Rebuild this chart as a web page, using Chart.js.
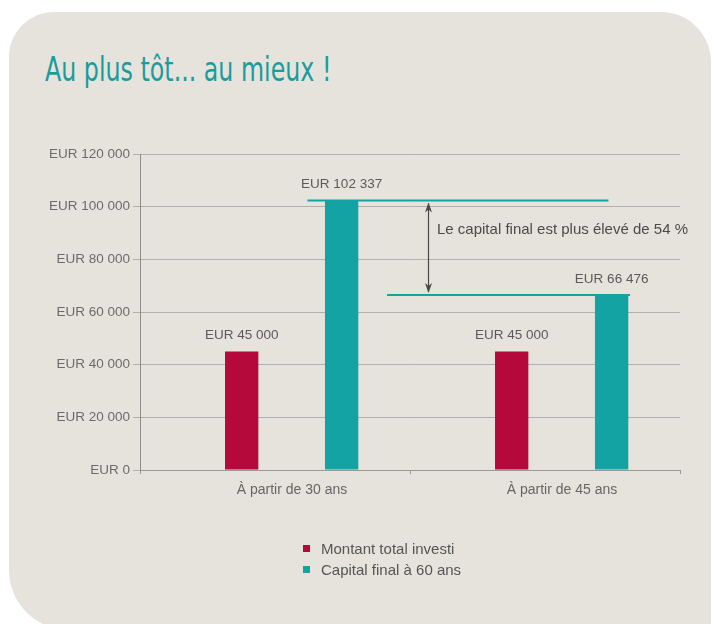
<!DOCTYPE html>
<html>
<head>
<meta charset="utf-8">
<script src="https://cdn.jsdelivr.net/npm/chart.js@4.4.0/dist/chart.umd.min.js"></script>
<style>
  html, body { margin: 0; padding: 0; background: #fff; }
  #page { position: relative; width: 712px; height: 624px; overflow: hidden; }
  #panel {
    position: absolute; left: 9px; top: 12px; width: 702px; height: 618px;
    background: #e6e3dd; border-radius: 45px 50px 0 60px;
  }
  #title {
    position: absolute; left: 45px; top: 50px; margin: 0;
    font: normal 33px/40px "DejaVu Sans Condensed", "DejaVu Sans", sans-serif;
    color: #1a9c9c; white-space: nowrap;
    transform: scaleX(0.8); transform-origin: left center;
  }
  #chart { position: absolute; left: 0; top: 0; }
  #legend {
    position: absolute; left: 303px; top: 538px; margin: 0; padding: 0; list-style: none;
    font: 15px/21px "Liberation Sans", Arial, sans-serif; color: #555;
  }
  #legend li { display: flex; align-items: center; white-space: nowrap; }
  #legend span { display: inline-block; width: 7px; height: 7px; margin-right: 11px; }
</style>
</head>
<body>
<div id="page">
  <div id="panel"></div>
  <h2 id="title">Au plus tôt... au mieux !</h2>
  <canvas id="chart" width="712" height="624"></canvas>
  <ul id="legend"></ul>
</div>
<script>
const categories = ["À partir de 30 ans", "À partir de 45 ans"];
const investedValues = [45000, 45000];
const finalValues = [102337, 66476];
const seriesLabels = ["Montant total investi", "Capital final à 60 ans"];
const seriesColors = ["#b5093b", "#14a3a3"];
const yTicks = [0, 20000, 40000, 60000, 80000, 100000, 120000];
const gapNote = "Le capital final est plus élevé de 54 %";

const FONT = "'Liberation Sans', Arial, sans-serif";

const eur = (v) => "EUR " + String(v).replace(/\B(?=(\d{3})+(?!\d))/g, " ");

// empty slots so the two bars sit where the original puts them
const spacer = () => ({ label: "", data: categories.map(() => null) });

const valueLabels = {
  id: "valueLabels",
  afterDatasetsDraw(chart) {
    const ctx = chart.ctx;
    ctx.save();
    ctx.font = "13.5px " + FONT;
    ctx.fillStyle = "#5a5a5a";
    ctx.textAlign = "center";
    ctx.textBaseline = "middle";
    chart.data.datasets.forEach((ds, i) => {
      if (!ds.label) return;
      chart.getDatasetMeta(i).data.forEach((bar, j) => {
        ctx.fillText(eur(ds.data[j]), bar.x, bar.y - 16);
      });
    });
    ctx.restore();
  },
};

const gapArrow = {
  id: "gapArrow",
  afterDatasetsDraw(chart) {
    const { ctx, scales: { x, y } } = chart;
    const top = y.getPixelForValue(finalValues[0]);
    const low = y.getPixelForValue(finalValues[1]);
    const line = (x1, y1, x2, y2) => {
      ctx.beginPath();
      ctx.moveTo(x1, y1);
      ctx.lineTo(x2, y2);
      ctx.stroke();
    };
    ctx.save();
    ctx.strokeStyle = seriesColors[1];
    ctx.lineWidth = 2;
    line(x.getPixelForValue(0.12), top, x.getPixelForValue(1.235), top);
    line(x.getPixelForValue(0.415), low, x.getPixelForValue(1.315), low);

    const ax = Math.round(x.getPixelForValue(0.565)) + 0.5;
    ctx.strokeStyle = "#474747";
    ctx.fillStyle = "#474747";
    ctx.lineWidth = 1.2;
    line(ax, top + 3, ax, low - 3);
    const head = (tipY, dir) => {
      ctx.beginPath();
      ctx.moveTo(ax, tipY);
      ctx.lineTo(ax - 3.5, tipY + dir * 10);
      ctx.lineTo(ax, tipY + dir * 7);
      ctx.lineTo(ax + 3.5, tipY + dir * 10);
      ctx.closePath();
      ctx.fill();
    };
    head(top + 2, 1);
    head(low - 2, -1);

    ctx.font = "15px " + FONT;
    ctx.fillStyle = "#4a4a4a";
    ctx.textAlign = "left";
    ctx.textBaseline = "middle";
    ctx.fillText(gapNote, x.getPixelForValue(0.6), top + (low - top) * 0.31);
    ctx.restore();
  },
};

new Chart(document.getElementById("chart"), {
  type: "bar",
  data: {
    labels: categories,
    datasets: [
      spacer(),
      { label: seriesLabels[0], data: investedValues, backgroundColor: seriesColors[0] },
      spacer(),
      spacer(),
      { label: seriesLabels[1], data: finalValues, backgroundColor: seriesColors[1] },
    ],
  },
  options: {
    responsive: false,
    animation: false,
    barPercentage: 1,
    categoryPercentage: 0.617,
    layout: { padding: { top: 154, right: 32, bottom: 124, left: 0 } },
    plugins: {
      legend: { display: false },
      tooltip: { enabled: false },
    },
    scales: {
      x: {
        offset: true,
        grid: { offset: true, drawOnChartArea: false, tickLength: 4, color: "#999" },
        border: { color: "#999" },
        ticks: { color: "#666", font: { family: FONT, size: 14 }, padding: 8, labelOffset: 17 },
        afterFit: (s) => { s.height = 30; },
      },
      y: {
        min: 0,
        max: 120000,
        afterBuildTicks: (s) => { s.ticks = yTicks.map((v) => ({ value: v })); },
        ticks: {
          color: "#6b6b6b",
          font: { family: FONT, size: 13.5 },
          padding: 3,
          callback: (v) => eur(v),
        },
        grid: { color: "#b0b0b0", tickLength: 7 },
        border: { color: "#8c8c8c" },
        afterFit: (s) => { s.width = 140; },
      },
    },
  },
  plugins: [valueLabels, gapArrow],
});

const legend = document.getElementById("legend");
seriesLabels.forEach((label, i) => {
  const li = document.createElement("li");
  const box = document.createElement("span");
  box.style.background = seriesColors[i];
  li.appendChild(box);
  li.appendChild(document.createTextNode(label));
  legend.appendChild(li);
});
</script>
</body>
</html>
